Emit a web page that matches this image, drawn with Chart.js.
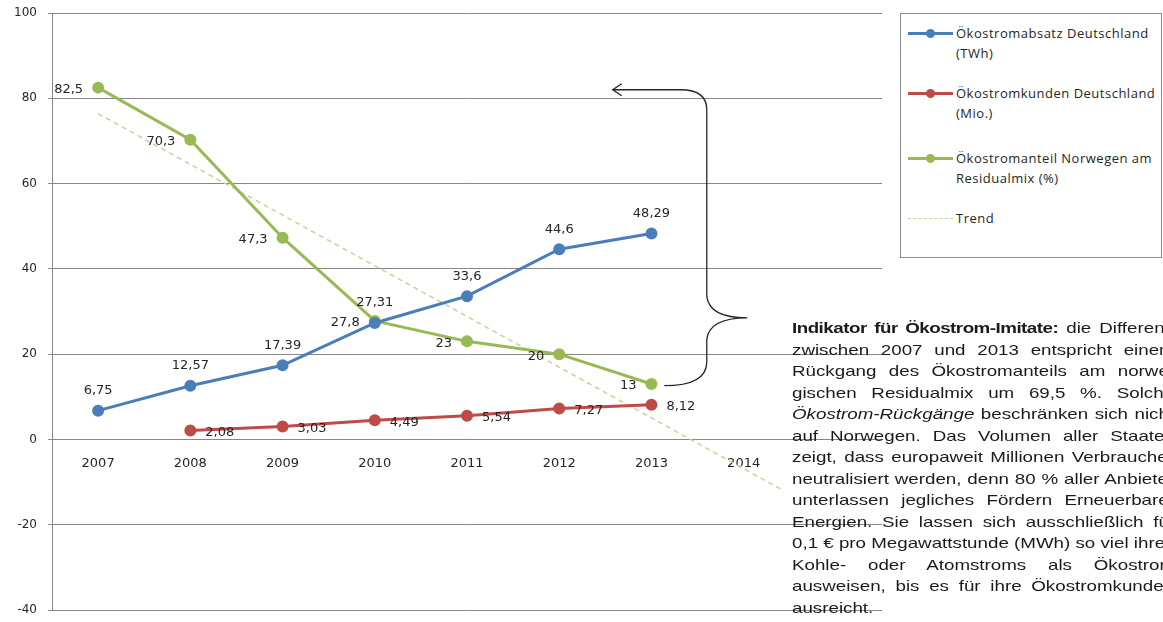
<!DOCTYPE html>
<html>
<head>
<meta charset="utf-8">
<script src="https://cdn.jsdelivr.net/npm/chart.js@4.4.1/dist/chart.umd.min.js"></script>
<style>
    html, body { margin: 0; padding: 0; background: #fff; overflow: hidden; width: 1163px; height: 622px; }
    #chart { position: absolute; left: 0; top: 0; }
    #legend {
        position: absolute; left: 900px; top: 13px; width: 260px; height: 243px;
        border: 1px solid #8c8c8c; background: #fff;
        font-family: "Open Sans", sans-serif; font-size: 13px; color: #262626; letter-spacing: 0.5px;
    }
    .item { position: absolute; left: 0; width: 300px; }
    .swatch { position: absolute; left: 7px; width: 45px; height: 3px; margin-top: -1.5px; }
    .swatch i { position: absolute; left: 18px; top: -3px; width: 9px; height: 9px; border-radius: 50%; }
    .swatch.dash { height: 0; border-top: 1.5px dashed #c3d49e; margin-top: 0; }
    .item .txt { position: absolute; left: 55px; line-height: 20px; white-space: nowrap; }
    #note {
        position: absolute; left: 792px; top: 317px; width: 306px;
        font-family: "Liberation Sans", Arial, sans-serif; font-size: 15px; line-height: 21.5px; color: #1a1a1a;
        transform-origin: 0 0; transform: scaleX(1.25);
    }
    #note .ln { white-space: nowrap; }
    #note b { letter-spacing: -0.4px; }
</style>
</head>
<body>
<canvas id="chart" width="1163" height="622"></canvas>

<div id="legend">
    <div class="item" style="top:19px">
        <span class="swatch" style="background:#4a7ebb"><i style="background:#4a7ebb"></i></span>
        <div class="txt" style="top:-10px">Ökostromabsatz Deutschland<br>(TWh)</div>
    </div>
    <div class="item" style="top:79px">
        <span class="swatch" style="background:#be4b48"><i style="background:#be4b48"></i></span>
        <div class="txt" style="top:-10px">Ökostromkunden Deutschland<br>(Mio.)</div>
    </div>
    <div class="item" style="top:144px">
        <span class="swatch" style="background:#98b954"><i style="background:#98b954"></i></span>
        <div class="txt" style="top:-10px">Ökostromanteil Norwegen am<br>Residualmix (%)</div>
    </div>
    <div class="item" style="top:204px">
        <span class="swatch dash"></span>
        <div class="txt" style="top:-10px">Trend</div>
    </div>
</div>

<div id="note">
    <div class="ln j"><span><b>Indikator für Ökostrom-Imitate:</b> die Differenz</span></div>
    <div class="ln j"><span>zwischen 2007 und 2013 entspricht einem</span></div>
    <div class="ln j"><span>Rückgang des Ökostromanteils am norwe-</span></div>
    <div class="ln j"><span>gischen Residualmix um 69,5 %. Solche</span></div>
    <div class="ln j"><span><i>Ökostrom-Rückgänge</i> beschränken sich nicht</span></div>
    <div class="ln j"><span>auf Norwegen. Das Volumen aller Staaten</span></div>
    <div class="ln j"><span>zeigt, dass europaweit Millionen Verbraucher</span></div>
    <div class="ln j"><span>neutralisiert werden, denn 80 % aller Anbieter</span></div>
    <div class="ln j"><span>unterlassen jegliches Fördern Erneuerbarer</span></div>
    <div class="ln j"><span>Energien. Sie lassen sich ausschließlich für</span></div>
    <div class="ln j"><span>0,1 € pro Megawattstunde (MWh) so viel ihres</span></div>
    <div class="ln j"><span>Kohle- oder Atomstroms als Ökostrom</span></div>
    <div class="ln j"><span>ausweisen, bis es für ihre Ökostromkunden</span></div>
    <div class="ln"><span>ausreicht.</span></div>
</div>

<script>
"use strict";

// --- Daten ---
const years = [2007, 2008, 2009, 2010, 2011, 2012, 2013];
const kundenYears = [2008, 2009, 2010, 2011, 2012, 2013];
const xTickYears = [2007, 2008, 2009, 2010, 2011, 2012, 2013, 2014];
const yTickValues = [-40, -20, 0, 20, 40, 60, 80, 100];

const absatzTWh = [6.75, 12.57, 17.39, 27.31, 33.6, 44.6, 48.29];
const kundenMio = [2.08, 3.03, 4.49, 5.54, 7.27, 8.12];
const anteilNorwegen = [82.5, 70.3, 47.3, 27.8, 23, 20, 13];

// Trendlinie, Endpunkte
const trendYears = [2007, 2014.4];
const trendValues = [76.4, -11.6];

const BLUE = '#4a7ebb';
const RED = '#be4b48';
const GREEN = '#98b954';
const GRID = '#878787';
const NOTE_WIDTH = 306;

function toPoints(xs, ys) {
    return xs.map((x, i) => ({ x: x, y: ys[i] }));
}

function formatDe(v) {
    return String(v).replace('.', ',');
}

// Werte-Beschriftungen (oben / links / rechts vom Punkt)
const valueLabels = {
    id: 'valueLabels',
    afterDatasetsDraw(chart) {
        const ctx = chart.ctx;
        ctx.save();
        ctx.font = '13px "DejaVu Sans"';
        ctx.fillStyle = '#262626';
        ctx.textBaseline = 'middle';
        chart.data.datasets.forEach((ds, i) => {
            if (!ds.labelSide) return;
            const meta = chart.getDatasetMeta(i);
            meta.data.forEach((pt, j) => {
                const text = formatDe(ds.data[j].y);
                if (ds.labelSide === 'top') {
                    ctx.textAlign = 'center';
                    ctx.fillText(text, pt.x, pt.y - 20);
                } else if (ds.labelSide === 'left') {
                    ctx.textAlign = 'right';
                    ctx.fillText(text, pt.x - 15, pt.y + 2);
                } else {
                    ctx.textAlign = 'left';
                    ctx.fillText(text, pt.x + 15, pt.y + 2);
                }
            });
        });
        ctx.restore();
    }
};

// geschweifte Klammer mit Pfeil (2013 -> Niveau 2007)
const braceArrow = {
    id: 'braceArrow',
    afterDatasetsDraw(chart) {
        const { ctx, scales: { x, y } } = chart;
        const xTip = x.getPixelForValue(2012.58);
        const xBar = x.getPixelForValue(2013.6);
        const xPoint = x.getPixelForValue(2014.04);
        const xEnd = x.getPixelForValue(2013.14);
        const yTop = y.getPixelForValue(82);
        const yMid = y.getPixelForValue(28.5);
        const yEnd = y.getPixelForValue(12.6);

        ctx.save();
        ctx.strokeStyle = '#262626';
        ctx.lineWidth = 1.3;
        ctx.beginPath();
        ctx.moveTo(xTip, yTop);
        ctx.lineTo(xBar - 26, yTop);
        ctx.quadraticCurveTo(xBar, yTop, xBar, yTop + 20);
        ctx.lineTo(xBar, yMid - 22);
        ctx.quadraticCurveTo(xBar + 2, yMid, xPoint, yMid);
        ctx.quadraticCurveTo(xBar + 2, yMid, xBar, yMid + 22);
        ctx.lineTo(xBar, yEnd - 24);
        ctx.quadraticCurveTo(xBar, yEnd, xEnd, yEnd);
        ctx.stroke();

        ctx.beginPath();
        ctx.moveTo(xTip + 9, yTop - 6);
        ctx.lineTo(xTip, yTop);
        ctx.lineTo(xTip + 9, yTop + 6);
        ctx.stroke();
        ctx.restore();
    }
};

const ctx = document.getElementById('chart').getContext('2d');
new Chart(ctx, {
    type: 'line',
    data: {
        datasets: [
            {
                label: 'Ökostromabsatz Deutschland (TWh)',
                data: toPoints(years, absatzTWh),
                borderColor: BLUE, backgroundColor: BLUE,
                borderWidth: 3, pointRadius: 4.5, pointHoverRadius: 4.5,
                labelSide: 'top', order: 1
            },
            {
                label: 'Ökostromkunden Deutschland (Mio.)',
                data: toPoints(kundenYears, kundenMio),
                borderColor: RED, backgroundColor: RED,
                borderWidth: 3, pointRadius: 4.5, pointHoverRadius: 4.5,
                labelSide: 'right', order: 2
            },
            {
                label: 'Ökostromanteil Norwegen am Residualmix (%)',
                data: toPoints(years, anteilNorwegen),
                borderColor: GREEN, backgroundColor: GREEN,
                borderWidth: 3, pointRadius: 4.5, pointHoverRadius: 4.5,
                labelSide: 'left', order: 3
            },
            {
                label: 'Trend',
                data: toPoints(trendYears, trendValues),
                borderColor: '#c3d49e',
                borderWidth: 1.5, borderDash: [5, 4],
                pointRadius: 0, order: 4
            }
        ]
    },
    options: {
        responsive: false,
        animation: false,
        layout: { padding: { left: 0, right: 281, top: 13, bottom: 12 } },
        plugins: {
            legend: { display: false },
            tooltip: { enabled: false }
        },
        scales: {
            x: {
                type: 'linear',
                position: { y: 0 },
                min: 2006.5,
                max: 2015.5,
                afterBuildTicks: (scale) => { scale.ticks = xTickYears.map(v => ({ value: v })); },
                grid: { display: false, drawTicks: false },
                border: { display: true, color: GRID },
                ticks: {
                    padding: 16, maxRotation: 0, autoSkip: false,
                    color: '#262626',
                    font: { family: 'DejaVu Sans', size: 13 },
                    callback: (v) => String(v)
                }
            },
            y: {
                min: -40,
                max: 100,
                afterBuildTicks: (scale) => { scale.ticks = yTickValues.map(v => ({ value: v })); },
                afterFit: (scale) => {
                    scale.width = 52;
                    // keine zusaetzliche Polsterung oben/unten fuer die Beschriftungen
                    scale.paddingTop = 0;
                    scale.paddingBottom = 0;
                },
                grid: { color: GRID, tickLength: 4 },
                border: { color: GRID },
                ticks: {
                    padding: 11,
                    color: '#262626',
                    font: { family: 'DejaVu Sans', size: 12 }
                }
            }
        }
    },
    plugins: [valueLabels, braceArrow]
});

// Blocksatz fuer die Textzeilen (Wortabstand anpassen)
document.querySelectorAll('#note .ln.j').forEach(el => {
    const span = el.firstElementChild;
    const spaces = (span.textContent.match(/ /g) || []).length;
    const extra = NOTE_WIDTH - span.offsetWidth;
    if (spaces > 0 && extra > 0) {
        span.style.wordSpacing = (extra / spaces) + 'px';
    }
});
</script>
</body>
</html>
